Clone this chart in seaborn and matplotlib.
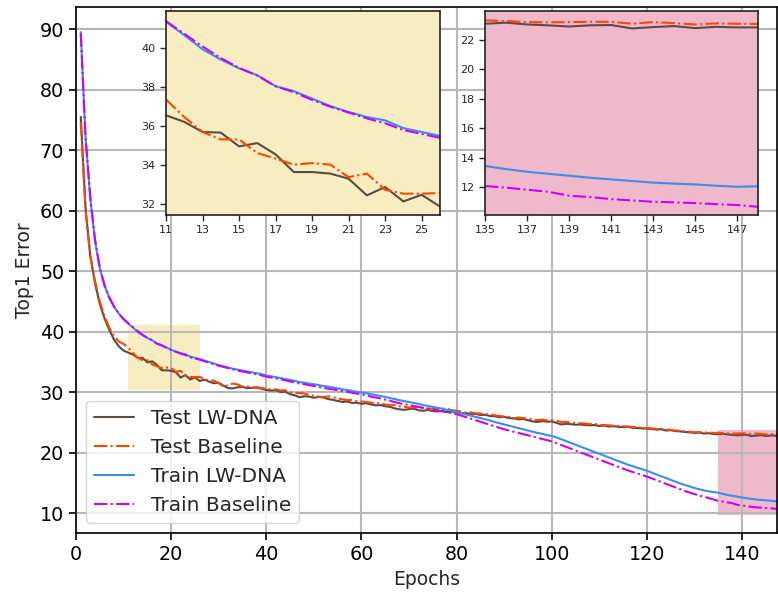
import numpy as np
import pandas as pd
import matplotlib
matplotlib.use('Agg')
import matplotlib.pyplot as plt
from matplotlib.patches import Rectangle
import seaborn as sns

# Top1 error per epoch (epochs 1..148)
epochs = list(range(1, 149))

test_lwdna = [
    75.5, 60.5, 52.5, 48.0, 44.6, 42.2, 40.3, 38.7, 37.6, 36.9,
    36.56, 36.22, 35.7, 35.67, 34.96, 35.13, 34.55, 33.64, 33.64, 33.56,
    33.3, 32.44, 32.87, 32.13, 32.47, 31.87, 32.1, 31.75, 31.5, 31.6,
    31.1, 30.7, 30.65, 30.85, 30.9, 30.7, 30.75, 30.8, 30.6, 30.4,
    30.3, 30.35, 30.05, 30.1, 29.7, 29.5, 29.2, 29.35, 29.3, 29.1,
    29.25, 29.15, 28.9, 28.75, 28.6, 28.4, 28.5, 28.25, 28.3, 28.1,
    28.2, 28.0, 27.85, 27.9, 27.7, 27.6, 27.35, 27.2, 27.1, 27.25,
    27.3, 27.05, 26.95, 27.1, 26.9, 26.85, 26.95, 26.75, 26.8, 26.7,
    26.55, 26.6, 26.4, 26.45, 26.25, 26.3, 26.1, 26.05, 25.9, 25.95,
    25.75, 25.7, 25.55, 25.6, 25.4, 25.2, 25.1, 25.25, 25.15, 25.2,
    24.95, 24.7, 24.8, 24.75, 24.65, 24.7, 24.6, 24.55, 24.6, 24.45,
    24.5, 24.35, 24.4, 24.3, 24.25, 24.3, 24.15, 24.1, 24.05, 24.0,
    23.95, 23.85, 23.9, 23.7, 23.75, 23.6, 23.55, 23.45, 23.4, 23.3,
    23.35, 23.2, 23.25, 23.1, 23.09, 23.16, 23.04, 22.98, 22.9, 22.98,
    23.0, 22.77, 22.86, 22.93, 22.79, 22.88, 22.84, 22.84,
]

test_baseline = [
    74.6, 60.0, 52.6, 48.4, 45.0, 42.6, 40.7, 39.3, 38.4, 38.0,
    37.37, 36.47, 35.7, 35.32, 35.32, 34.62, 34.33, 34.02, 34.1, 34.02,
    33.38, 33.56, 32.73, 32.53, 32.53, 32.56, 32.2, 31.9, 31.95, 31.5,
    30.95, 31.2, 31.45, 31.3, 30.95, 31.0, 30.75, 30.85, 30.7, 30.6,
    30.45, 30.5, 30.3, 30.35, 30.05, 29.85, 29.9, 29.8, 29.55, 29.45,
    29.3, 29.2, 29.35, 29.2, 29.0, 28.85, 28.7, 28.75, 28.55, 28.5,
    28.4, 28.3, 28.15, 28.2, 28.0, 27.85, 27.9, 27.7, 27.6, 27.5,
    27.55, 27.4, 27.45, 27.3, 27.35, 27.2, 27.3, 27.3, 27.05, 26.95,
    26.85, 26.6, 26.7, 26.55, 26.5, 26.35, 26.4, 26.2, 26.1, 26.0,
    25.95, 25.7, 25.85, 25.75, 25.6, 25.55, 25.4, 25.5, 25.35, 25.4,
    25.3, 25.1, 25.15, 25.0, 24.95, 24.9, 24.85, 24.75, 24.8, 24.65,
    24.6, 24.55, 24.5, 24.45, 24.4, 24.35, 24.3, 24.25, 24.15, 24.1,
    24.05, 23.95, 24.0, 23.85, 23.8, 23.7, 23.65, 23.55, 23.5, 23.4,
    23.45, 23.35, 23.4, 23.3, 23.32, 23.27, 23.2, 23.18, 23.2, 23.22,
    23.22, 23.09, 23.2, 23.13, 23.04, 23.11, 23.09, 23.07,
]

train_lwdna = [
    89.5, 72.0, 62.0, 55.0, 50.5, 47.6, 45.6, 44.1, 43.0, 42.1,
    41.37, 40.68, 39.95, 39.43, 38.97, 38.62, 38.06, 37.8, 37.42, 37.03,
    36.73, 36.47, 36.3, 35.9, 35.7, 35.5, 35.25, 35.0, 34.75, 34.5,
    34.3, 34.1, 33.9, 33.75, 33.6, 33.45, 33.3, 33.15, 33.0, 32.8,
    32.65, 32.5, 32.35, 32.2, 32.05, 31.9, 31.7, 31.6, 31.45, 31.35,
    31.2, 31.05, 30.95, 30.8, 30.65, 30.5, 30.4, 30.25, 30.1, 30.0,
    29.85, 29.7, 29.55, 29.4, 29.25, 29.05, 28.9, 28.7, 28.55, 28.4,
    28.25, 28.1, 27.9, 27.75, 27.6, 27.45, 27.3, 27.1, 26.95, 26.75,
    26.55, 26.35, 26.15, 25.95, 25.75, 25.55, 25.35, 25.1, 24.9, 24.7,
    24.5, 24.3, 24.1, 23.9, 23.7, 23.5, 23.3, 23.15, 22.95, 22.8,
    22.55, 22.25, 21.95, 21.65, 21.35, 21.05, 20.75, 20.45, 20.15, 19.85,
    19.55, 19.25, 18.95, 18.65, 18.35, 18.05, 17.8, 17.55, 17.3, 17.05,
    16.75, 16.45, 16.15, 15.85, 15.55, 15.25, 14.95, 14.7, 14.45, 14.2,
    14.0, 13.8, 13.65, 13.53, 13.43, 13.22, 13.04, 12.9, 12.77, 12.63,
    12.52, 12.41, 12.3, 12.23, 12.18, 12.09, 12.02, 12.05,
]

train_baseline = [
    89.3, 72.3, 62.3, 55.2, 50.6, 47.7, 45.7, 44.2, 43.0, 42.1,
    41.4, 40.75, 40.1, 39.5, 39.0, 38.6, 38.05, 37.75, 37.35, 37.0,
    36.7, 36.4, 36.15, 35.8, 35.6, 35.4, 35.15, 34.9, 34.65, 34.4,
    34.2, 34.0, 33.8, 33.6, 33.45, 33.3, 33.15, 33.0, 32.8, 32.6,
    32.45, 32.3, 32.15, 32.0, 31.8, 31.65, 31.45, 31.35, 31.2, 31.05,
    30.9, 30.75, 30.6, 30.5, 30.35, 30.2, 30.1, 29.95, 29.8, 29.65,
    29.5, 29.3, 29.15, 29.0, 28.8, 28.6, 28.4, 28.2, 28.05, 27.9,
    27.75, 27.6, 27.45, 27.3, 27.15, 27.0, 26.85, 26.7, 26.55, 26.4,
    26.15, 25.9, 25.65, 25.4, 25.15, 24.9, 24.65, 24.4, 24.15, 23.9,
    23.7, 23.5, 23.3, 23.1, 22.9, 22.7, 22.5, 22.3, 22.1, 21.9,
    21.6, 21.3, 21.0, 20.7, 20.4, 20.1, 19.8, 19.5, 19.2, 18.9,
    18.6, 18.3, 18.0, 17.7, 17.4, 17.1, 16.85, 16.6, 16.35, 16.1,
    15.8, 15.5, 15.2, 14.9, 14.6, 14.3, 14.0, 13.7, 13.45, 13.2,
    12.95, 12.75, 12.55, 12.3, 12.07, 11.96, 11.82, 11.68, 11.41, 11.32,
    11.18, 11.09, 11.0, 10.96, 10.91, 10.84, 10.78, 10.66,
]

# zoomed regions (epoch range, error range) and the shaded boxes for them
zoom1_x = (11, 26)
zoom1_y = (31.43, 41.92)
box1_y = (30.4, 41.2)
zoom2_x = (135, 148)
zoom2_y = (10.1, 23.95)
box2_y = (9.8, 23.8)

series = [
    ("Test LW-DNA", test_lwdna, "#5D4A44", "-"),
    ("Test Baseline", test_baseline, "#FF4500", "-."),
    ("Train LW-DNA", train_lwdna, "#3B8EE8", "-"),
    ("Train Baseline", train_baseline, "#CC00FF", "-."),
]

yellow = "#F8EDC1"
pink = "#F0B8CB"

sns.set_style("ticks")
plt.rcParams['font.family'] = ['DejaVu Sans']

fig = plt.figure(figsize=(7.78, 5.94), dpi=100)
ax = fig.add_axes([0.0977, 0.102, 0.9013, 0.8857])

for name, vals, col, ls in series:
    sns.lineplot(x=epochs, y=vals, ax=ax, color=col, linestyle=ls,
                 linewidth=1.5, label=name)

# highlight the zoomed regions
ax.add_patch(Rectangle((zoom1_x[0], box1_y[0]), zoom1_x[1] - zoom1_x[0],
                       box1_y[1] - box1_y[0], facecolor=yellow,
                       edgecolor='none', zorder=0.5))
ax.add_patch(Rectangle((zoom2_x[0], box2_y[0]), zoom2_x[1] - zoom2_x[0],
                       box2_y[1] - box2_y[0], facecolor=pink,
                       edgecolor='none', zorder=0.5))

ax.set_xlim(0, 147.4)
ax.set_ylim(6.7, 93.6)
ax.set_xticks(range(0, 141, 20))
ax.set_yticks(range(10, 91, 10))
ax.grid(True, color='#b8b8b8', linewidth=1.5)
ax.set_axisbelow(True)
ax.tick_params(labelsize=13.8, length=5, width=1.2, colors='black')
for sp in ax.spines.values():
    sp.set_color('black')
    sp.set_linewidth(1.2)
ax.set_xlabel("Epochs", fontsize=13.5)
ax.set_ylabel("Top1 Error", fontsize=13.5)
leg = ax.legend(loc='lower left', fontsize=14.5, frameon=True,
                handlelength=2.0)
leg.get_frame().set_edgecolor('#cccccc')

# insets
def draw_inset(rect, xr, yr, xticks, yticks, bg):
    ins = fig.add_axes(rect)
    ins.set_facecolor(bg)
    e = np.array(epochs)
    m = (e >= xr[0]) & (e <= xr[1])
    for name, vals, col, ls in series:
        sns.lineplot(x=e[m], y=np.array(vals)[m], ax=ins, color=col,
                     linestyle=ls, linewidth=1.5, legend=False)
    ins.set_xlim(*xr)
    ins.set_ylim(*yr)
    ins.set_xticks(xticks)
    ins.set_yticks(yticks)
    ins.tick_params(labelsize=8, length=4, width=1.0)
    for sp in ins.spines.values():
        sp.set_color('#222222')
        sp.set_linewidth(1.2)
    ins.set_xlabel("")
    ins.set_ylabel("")
    return ins

draw_inset([0.2134, 0.638, 0.352, 0.3434], zoom1_x, zoom1_y,
           list(range(11, 26, 2)), list(range(32, 41, 2)), yellow)
draw_inset([0.6234, 0.638, 0.351, 0.3434], zoom2_x, zoom2_y,
           list(range(135, 148, 2)), list(range(12, 23, 2)), pink)

fig.savefig("out.png", dpi=100)
